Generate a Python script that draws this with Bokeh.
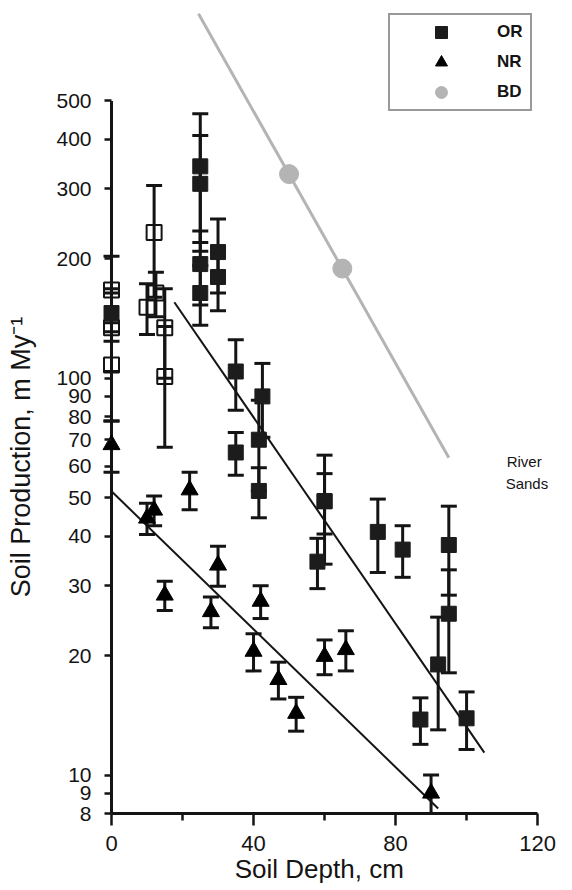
import numpy as np
from bokeh.plotting import figure
from bokeh.models import (ColumnDataSource, Whisker, TeeHead, FixedTicker,
                          NumeralTickFormatter, Legend, LegendItem, Label, Range1d)
from bokeh.embed import file_html
from bokeh.resources import INLINE

# ---------------- data ----------------
# OR (filled squares)
or_x = [0, 25, 25, 25, 25, 30, 30, 35, 35, 42.5, 41.5, 41.5, 60, 60, 58, 75, 82, 95, 95, 92, 87, 100]
or_y = [146, 342, 309, 194, 164, 208, 180, 104, 65, 90, 70, 52, 49, 49, 34.5, 41, 37, 38, 25.5, 19, 13.8, 13.9]
or_err = [22, 122, 100, 41, 28, 44, 32, 21, 8, 19, 18, 7.5, 15, 8.5, 5, 8.6, 5.5, 9.6, 7.4, 6, 1.85, 2.3]

# open squares
op_x = [0, 0, 0, 10, 12.5, 12, 15, 15]
op_y = [167, 134, 108, 151, 164, 233, 134, 101]
op_err = [36, 30, 30, 22, 21, 73, 34, 34]

# NR (triangles)
nr_x = [0, 10, 12, 15, 22, 28, 30, 40, 42, 47, 52, 60, 66, 90]
nr_y = [68, 44.4, 46.5, 28.4, 52.3, 25.8, 33.8, 20.5, 27.4, 17.4, 14.3, 19.9, 20.7, 9.0]
nr_err = [10, 4, 4, 2.4, 5.7, 2.3, 3.9, 2.2, 2.6, 1.85, 1.4, 2, 2.4, 1]

# BD (grey circles)
bd_x = [50, 65]
bd_y = [327, 189]

# exponential fits: y = a * 10**(b*x) over [x0, x1]
or_fit = dict(a=264.0, b=-0.0130, x0=17.7, x1=105.0)
nr_fit = dict(a=51.9, b=-0.00869, x0=0.0, x1=92.0)
bd_fit = dict(a=2030.0, b=-0.01587, x0=24.5, x1=95.0)

x_ticks = [0, 40, 80, 120]
x_minor = [20, 60, 100]
y_ticks = [8, 9, 10, 20, 30, 40, 50, 60, 70, 80, 90, 100, 200, 300, 400, 500]

FONT = "Liberation Sans"
INK = "#141414"
NB = "\u00a0"

p = figure(width=556, height=889, x_range=Range1d(-3.1, 124.2), y_range=Range1d(8, 845),
           y_axis_type="log", output_backend="svg", toolbar_location=None,
           min_border_left=100, min_border_right=4, min_border_top=10, min_border_bottom=76)
p.xgrid.grid_line_color = None
p.ygrid.grid_line_color = None
p.outline_line_color = None
p.background_fill_color = "white"

# y axis line at x = 0, spanning the labelled tick range
p.segment(x0=[x_ticks[0]], y0=[y_ticks[0]], x1=[x_ticks[0]], y1=[y_ticks[-1]],
          line_color=INK, line_width=3)


def fit_line(f):
    xs = np.array([f["x0"], f["x1"]])
    return xs, f["a"] * 10 ** (f["b"] * xs)


xs, ys = fit_line(bd_fit)
p.line(xs, ys, line_color="#b4b4b4", line_width=3)
xs, ys = fit_line(or_fit)
p.line(xs, ys, line_color=INK, line_width=2)
xs, ys = fit_line(nr_fit)
p.line(xs, ys, line_color=INK, line_width=2)


def add_whiskers(x, y, e):
    y = np.array(y, dtype=float)
    e = np.array(e, dtype=float)
    src = ColumnDataSource(dict(base=x, upper=y + e, lower=y - e))
    w = Whisker(source=src, base="base", upper="upper", lower="lower",
                line_color=INK, line_width=3,
                upper_head=TeeHead(size=16, line_color=INK, line_width=3),
                lower_head=TeeHead(size=16, line_color=INK, line_width=3))
    p.add_layout(w)


add_whiskers(op_x, op_y, op_err)
add_whiskers(or_x, or_y, or_err)
add_whiskers(nr_x, nr_y, nr_err)

p.scatter(op_x, op_y, marker="square", size=15, fill_color=None, line_color=INK, line_width=2)
r_or = p.scatter(or_x, or_y, marker="square", size=15, fill_color="#1c1c1c", line_color="#1c1c1c")
r_nr = p.scatter(nr_x, nr_y, marker="triangle", size=17, fill_color="black", line_color="black")
r_bd = p.scatter(bd_x, bd_y, marker="circle", size=19, fill_color="#b4b4b4", line_color="#b4b4b4")

# axes
p.xaxis.ticker = FixedTicker(ticks=x_ticks, minor_ticks=x_minor)
p.xaxis.bounds = (0, 120)
p.yaxis.ticker = FixedTicker(ticks=y_ticks)
p.yaxis.formatter = NumeralTickFormatter(format="0")
p.yaxis.bounds = (8, 500)

for ax in (p.xaxis, p.yaxis):
    ax.axis_line_color = INK
    ax.axis_line_width = 3
    ax.major_tick_line_color = INK
    ax.major_tick_line_width = 2.5
    ax.minor_tick_line_color = INK
    ax.minor_tick_line_width = 2.5
    ax.major_tick_in = 0
    ax.minor_tick_in = 0
    ax.major_label_text_font = FONT
    ax.major_label_text_color = INK
    ax.axis_label_text_font = FONT
    ax.axis_label_text_color = INK
    ax.axis_label_text_font_style = "normal"

p.xaxis.major_tick_out = 12
p.xaxis.minor_tick_out = 7
p.xaxis.major_label_standoff = 10
p.xaxis.major_label_text_font_size = "22px"
p.xaxis.axis_label = "Soil Depth, cm" + NB * 2
p.xaxis.axis_label_text_font_size = "26px"
p.xaxis.axis_label_standoff = 0

# the y axis sits at the frame edge (slightly left of x = 0); its ticks reach in to x = 0
p.yaxis.axis_line_color = None
p.yaxis.major_tick_in = 11
p.yaxis.major_tick_out = -4
p.yaxis.minor_tick_line_color = None
p.yaxis.major_label_standoff = 9
p.yaxis.major_label_text_font_size = "21px"
p.yaxis.axis_label = "Soil Production, m My\u207b\u00b9" + NB * 12
p.yaxis.axis_label_text_font_size = "27px"
p.yaxis.axis_label_standoff = 17

# legend
legend = Legend(items=[LegendItem(label="OR", renderers=[r_or]),
                       LegendItem(label="NR", renderers=[r_nr]),
                       LegendItem(label="BD", renderers=[r_bd])],
                location=(288, 702), orientation="vertical",
                glyph_width=98, glyph_height=30, label_standoff=7, label_width=31,
                padding=2, spacing=0, margin=0,
                border_line_color="#333333", border_line_width=2,
                background_fill_color="white", background_fill_alpha=1,
                label_text_font=FONT, label_text_font_size="17px",
                label_text_font_style="bold", label_text_color=INK)
p.add_layout(legend)

p.add_layout(Label(x=111.3, y=58.6, text="River", text_font=FONT, text_font_size="15px",
                   text_color=INK))
p.add_layout(Label(x=111.0, y=51.6, text="Sands", text_font=FONT, text_font_size="15px",
                   text_color=INK))

open("out.html", "w").write(file_html(p, INLINE))
